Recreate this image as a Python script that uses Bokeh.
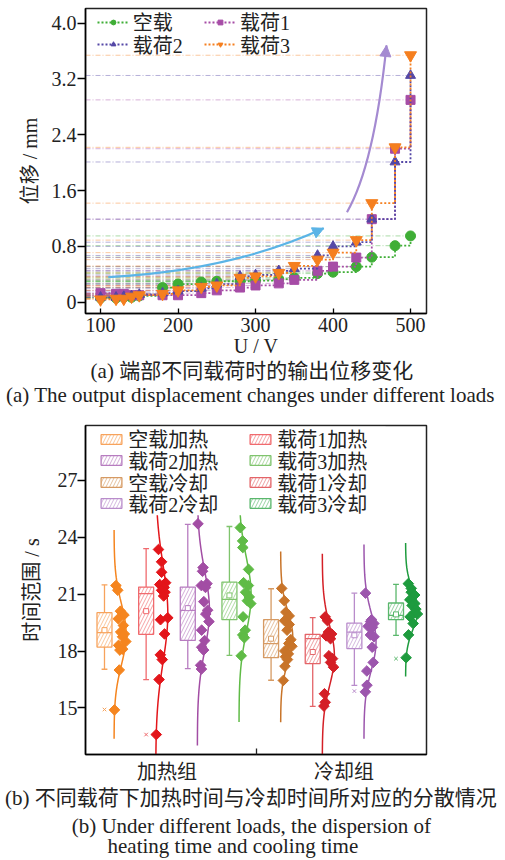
import numpy as np
from bokeh.plotting import figure
from bokeh.models import (FixedTicker, PrintfTickFormatter, Legend, LegendItem,
                          Label, Arrow, NormalHead, Range1d, ColumnDataSource, BoxAnnotation)
from bokeh.layouts import column
from bokeh.embed import file_html
from bokeh.resources import INLINE

SERIF = "Liberation Serif"
MIXED = "Liberation Serif, Noto Sans CJK SC"

# ---------------- (a) data ----------------
voltage = [100, 120, 130, 140, 150, 180, 200, 230, 250, 280, 300, 330, 350, 380, 400, 430, 450, 480, 500]
disp_noload = [0.06, 0.06, 0.07, 0.07, 0.09, 0.21, 0.26, 0.29, 0.30, 0.30, 0.31, 0.33, 0.35, 0.41, 0.43, 0.51, 0.645, 0.81, 0.95]
disp_load1 = [0.13, 0.12, 0.12, 0.10, 0.10, 0.10, 0.10, 0.13, 0.17, 0.21, 0.24, 0.27, 0.32, 0.45, 0.51, 0.64, 1.19, 2.20, 2.90]
disp_load2 = [0.07, 0.07, 0.08, 0.09, 0.11, 0.13, 0.16, 0.20, 0.26, 0.37, 0.39, 0.45, 0.48, 0.67, 0.80, 0.86, 1.19, 2.01, 3.25]
disp_load3 = [0.04, 0.05, 0.05, 0.08, 0.10, 0.12, 0.17, 0.22, 0.24, 0.35, 0.37, 0.42, 0.52, 0.61, 0.71, 0.89, 1.42, 2.22, 3.54]
series_names_a = ["空载", "载荷1", "载荷2", "载荷3"]
x_ticks_a = [100, 200, 300, 400, 500]
y_ticks_a = [0, 0.8, 1.6, 2.4, 3.2, 4.0]

# ---------------- (b) data ----------------
box_names = ["空载加热", "载荷1加热", "载荷2加热", "载荷3加热",
             "空载冷却", "载荷1冷却", "载荷2冷却", "载荷3冷却"]
heat_noload = [21.45, 21.2, 20.1, 19.9, 19.7, 19.35, 19.0, 18.9, 18.75, 18.5, 18.3, 18.1, 18.05, 17.0, 14.9]
heat_load1 = [23.35, 22.7, 22.15, 21.6, 21.5, 21.35, 21.2, 21.1, 20.9, 19.75, 19.65, 18.9, 17.8, 17.55, 16.5, 13.6]
heat_load2 = [24.7, 22.4, 22.2, 21.55, 21.45, 21.35, 20.6, 20.15, 19.95, 19.55, 19.1, 18.55, 18.2, 18.05, 17.25, 17.05]
heat_load3 = [24.5, 23.8, 23.45, 22.3, 21.6, 21.45, 21.1, 20.85, 20.65, 20.5, 19.8, 19.1, 18.85, 18.7, 17.75]
cool_noload = [21.3, 20.65, 20.05, 19.85, 19.6, 19.4, 19.1, 18.6, 18.4, 18.25, 18.0, 17.85, 17.7, 17.55, 17.2, 16.45]
cool_load1 = [19.8, 19.6, 19.0, 18.9, 18.8, 18.65, 17.75, 17.6, 17.4, 17.15, 15.75, 15.3, 15.1]
cool_load2 = [21.05, 19.65, 19.55, 19.45, 19.3, 19.25, 18.85, 18.75, 18.2, 17.4, 16.95, 16.2, 15.85]
cool_load3 = [21.55, 21.3, 21.1, 20.95, 20.7, 20.5, 20.4, 20.2, 20.0, 19.95, 19.8, 19.45, 18.85, 17.65]
box_points = [heat_noload, heat_load1, heat_load2, heat_load3,
              cool_noload, cool_load1, cool_load2, cool_load3]
whisker_low = [17.04, 16.49, 17.07, 17.77, 16.46, 15.09, 16.19, 18.83]
quart_1 = [18.21, 18.88, 18.56, 19.65, 17.65, 17.34, 18.13, 19.65]
median = [18.97, 21.02, 20.14, 20.72, 18.39, 18.65, 19.00, 19.88]
quart_3 = [20.02, 21.37, 21.37, 21.63, 19.65, 18.88, 19.47, 20.53]
whisker_high = [21.49, 23.39, 24.67, 24.56, 21.28, 19.76, 21.05, 21.51]
mean_val = [19.10, 20.10, 20.26, 20.93, 18.65, 17.95, 18.83, 19.93]
outliers = [[14.92], [13.6], [], [], [], [], [15.89], [17.6]]
group_labels = ["加热组", "冷却组"]
y_ticks_b = [15, 18, 21, 24, 27]

caption_a = ["(a)  端部不同载荷时的输出位移变化",
             "(a)  The output displacement changes under different loads"]
caption_b = ["(b)  不同载荷下加热时间与冷却时间所对应的分散情况",
             "(b)  Under different loads, the dispersion of",
             "heating time and cooling time"]

# ---------------- styles ----------------
col_a = ["#3fae36", "#a64ca6", "#5447a6", "#f57f1f"]
mark_a = ["circle", "square", "triangle", "inverted_triangle"]
size_a = [10, 9, 10, 12]
dot_col = ["#f5851f", "#e3151a", "#a24da4", "#5fbb46", "#c87429", "#d41f26", "#9c56ad", "#1e9b3e"]
box_col = ["#f7a35c", "#f06a6e", "#b77cc0", "#7fc46d", "#d69a63", "#e46468", "#b98ccb", "#5ab76c"]
TXT = "#222222"
W = 505


def style_axes(p, tick_size="20px"):
    for ax in (p.xaxis[0], p.yaxis[0]):
        ax.major_label_text_font = SERIF
        ax.major_label_text_font_size = tick_size
        ax.axis_label_text_font = MIXED
        ax.axis_label_text_font_size = "20px"
        ax.axis_label_text_font_style = "normal"
        ax.axis_line_width = 1.5
        ax.major_tick_line_width = 1.3
        ax.minor_tick_line_color = None
        ax.major_label_text_color = TXT
        ax.axis_label_text_color = TXT
    p.xgrid.visible = False
    p.ygrid.visible = False
    p.outline_line_color = TXT
    p.outline_line_width = 1.5
    p.outline_line_alpha = 1.0


def caption_fig(height):
    c = figure(width=W, height=height, x_range=Range1d(0, W), y_range=Range1d(0, height),
               x_axis_type=None, y_axis_type=None, output_backend="svg",
               toolbar_location=None, min_border=0, outline_line_color=None)
    c.frame_align = False
    c.xgrid.visible = False
    c.ygrid.visible = False
    return c


def caption(c, x, y, text, font, size, align="center"):
    c.add_layout(Label(x=x, y=y, text=text, text_align=align, text_baseline="middle",
                       text_font=font, text_font_size=size, text_color=TXT))


def one_row_legend(item, x, y, font_size, gw, gh):
    return Legend(items=[item], location=(x, y), orientation="vertical",
                  label_text_font=MIXED, label_text_font_size=font_size,
                  label_text_color=TXT,
                  glyph_width=gw, glyph_height=gh, label_standoff=4, spacing=0,
                  padding=0, margin=0, border_line_color=None,
                  background_fill_alpha=0.0)


# ================= figure (a) =================
xr_a = (80.6, 520.6)
yr_a = (-0.162, 4.21)
pa = figure(width=W, height=360, x_range=Range1d(*xr_a), y_range=Range1d(*yr_a),
            output_backend="svg", toolbar_location=None,
            min_border_left=85, min_border_right=79, min_border_top=8, min_border_bottom=47)
style_axes(pa)
pa.xaxis.ticker = FixedTicker(ticks=x_ticks_a)
pa.yaxis.ticker = FixedTicker(ticks=y_ticks_a)
pa.yaxis.formatter = PrintfTickFormatter(format="%.1f")
pa.yaxis.major_label_overrides = {0: "0"}
pa.xaxis.major_tick_in = 5
pa.xaxis.major_tick_out = 0
pa.yaxis.major_tick_in = 0
pa.yaxis.major_tick_out = 8
pa.xaxis.major_label_standoff = 4
pa.yaxis.major_label_standoff = 1
pa.xaxis.axis_label = "U / V"
pa.yaxis.axis_label = "位移 / mm"
pa.xaxis.axis_label_standoff = 0
pa.yaxis.axis_label_standoff = 8

series_a = [disp_noload, disp_load1, disp_load2, disp_load3]
n = len(voltage)
for vals, c in zip(series_a, col_a):
    pa.segment(x0=[xr_a[0]] * n, y0=vals, x1=voltage, y1=vals,
               line_color=c, line_alpha=0.55, line_width=0.8, line_dash="5 2 1 2")

arrow_blue = dict(x0=110, y0=0.36, cx=268, cy=0.45, x1=388, y1=1.06, color="#5bb4e6")
arrow_purple = dict(x0=418, y0=1.29, cx=453, cy=1.96, x1=469, y1=3.68, color="#a48ad1")
for a in (arrow_blue, arrow_purple):
    pa.quadratic(x0=[a["x0"]], y0=[a["y0"]], x1=[a["x1"]], y1=[a["y1"]],
                 cx=[a["cx"]], cy=[a["cy"]], line_color=a["color"], line_width=2.2)
    xs = a["x1"] - 0.08 * (a["x1"] - a["cx"])
    ys = a["y1"] - 0.08 * (a["y1"] - a["cy"])
    pa.add_layout(Arrow(end=NormalHead(size=11, fill_color=a["color"], line_color=a["color"]),
                        x_start=xs, y_start=ys, x_end=a["x1"], y_end=a["y1"],
                        line_color=a["color"], line_width=2.2))

items_a = []
for vals, c, m, s, name in zip(series_a, col_a, mark_a, size_a, series_names_a):
    rl = pa.step(voltage, vals, mode="after", line_color=c, line_width=1.8, line_dash="2 2")
    rm = pa.scatter(voltage, vals, marker=m, size=s, fill_color=c, line_color=c)
    items_a.append(LegendItem(label=name, renderers=[rl, rm]))

leg_a_x = [11.7, 119]
leg_a_y = [277, 254.5]
for k, it in enumerate(items_a):
    pa.add_layout(one_row_legend(it, leg_a_x[k % 2], leg_a_y[k // 2], "20px", 32, 12), "center")

cap_a = caption_fig(48)
caption(cap_a, 254, 38, caption_a[0], MIXED, "21px")
caption(cap_a, 252.5, 14, caption_a[1], SERIF, "21px")

# ================= figure (b) =================
xr_b = (0.544, 8.732)
yr_b = (12.55, 29.88)
pb = figure(width=W, height=378, x_range=Range1d(*xr_b), y_range=Range1d(*yr_b),
            output_backend="svg", toolbar_location=None,
            min_border_left=85, min_border_right=79, min_border_top=17, min_border_bottom=32)
style_axes(pb)
pb.yaxis.ticker = FixedTicker(ticks=y_ticks_b)
pb.yaxis.major_tick_in = 0
pb.yaxis.major_tick_out = 8
pb.yaxis.major_label_standoff = 0
pb.yaxis.axis_label = "时间范围 / s"
pb.yaxis.axis_label_standoff = 12
group_pos = [2.5, 6.75]
sep_pos = 4.64
pb.xaxis.ticker = FixedTicker(ticks=group_pos, minor_ticks=[sep_pos])
pb.xaxis.major_label_overrides = {group_pos[0]: group_labels[0], group_pos[1]: group_labels[1]}
pb.xaxis.major_label_text_font = MIXED
pb.xaxis.major_label_text_font_size = "20px"
pb.xaxis.major_tick_in = 0
pb.xaxis.major_tick_out = 0
pb.xaxis.minor_tick_line_color = TXT
pb.xaxis.minor_tick_line_width = 1.3
pb.xaxis.minor_tick_in = 6
pb.xaxis.minor_tick_out = 0
pb.xaxis.major_label_standoff = 6

pos = np.arange(1, 9, dtype=float)
hw = 0.18
cap = 0.07
curve_off = 0.23
curve_w = 0.29

jit = [0.55, 0.85, 0.7, 1.0, 0.4, 0.8]
for i in range(8):
    pts = np.array(box_points[i], dtype=float)
    m = pts.mean()
    s = pts.std(ddof=1)
    yy = np.linspace(m - 3.4 * s, m + 3.4 * s, 200)
    base = pos[i] + curve_off
    pdf = np.exp(-0.5 * ((yy - m) / s) ** 2)
    pb.line(base + curve_w * pdf, yy, line_color=dot_col[i], line_width=1.5)
    w_pts = np.exp(-0.5 * ((pts - m) / s) ** 2)
    xp = base + curve_w * w_pts * np.array([jit[k % len(jit)] for k in range(len(pts))])
    pb.scatter(xp, pts, marker="square", angle=np.pi / 4, size=7.5,
               fill_color=dot_col[i], line_color=dot_col[i])

src = ColumnDataSource(dict(left=pos - hw, right=pos + hw, bottom=quart_1, top=quart_3,
                            color=box_col))
box_r = pb.quad(left="left", right="right", bottom="bottom", top="top", source=src,
                fill_color="white", fill_alpha=0.0, line_color="color", line_width=1.3,
                hatch_pattern="/", hatch_color="color", hatch_alpha=0.7,
                hatch_scale=7, hatch_weight=0.9)
pb.segment(x0=pos - hw, x1=pos + hw, y0=median, y1=median, line_color=box_col, line_width=1.3)
pb.segment(x0=pos, x1=pos, y0=quart_3, y1=whisker_high, line_color=box_col, line_width=1.3)
pb.segment(x0=pos, x1=pos, y0=quart_1, y1=whisker_low, line_color=box_col, line_width=1.3)
pb.segment(x0=pos - cap, x1=pos + cap, y0=whisker_high, y1=whisker_high, line_color=box_col, line_width=1.3)
pb.segment(x0=pos - cap, x1=pos + cap, y0=whisker_low, y1=whisker_low, line_color=box_col, line_width=1.3)
pb.scatter(pos, mean_val, marker="square", size=5, fill_color="white", line_color=box_col, line_width=1)
ox, oy, oc = [], [], []
for i in range(8):
    for v in outliers[i]:
        ox.append(pos[i])
        oy.append(v)
        oc.append(box_col[i])
pb.scatter(ox, oy, marker="x", size=5, line_color=oc, line_width=1)

pb.add_layout(BoxAnnotation(left=0.58, right=7.75, bottom=25.15, top=29.82,
                            fill_color="white", fill_alpha=1.0, line_color=None))
items_b = [LegendItem(label=box_names[i], renderers=[box_r], index=i) for i in range(8)]
leg_b_x = [13.3, 162.3]
leg_b_y = [300.8, 279.5, 257.5, 236.5]
for k, it in enumerate(items_b):
    pb.add_layout(one_row_legend(it, leg_b_x[k % 2], leg_b_y[k // 2], "20px", 26, 12), "center")

cap_b = caption_fig(74)
caption(cap_b, 253, 62.5, caption_b[0], MIXED, "21px")
caption(cap_b, 253.5, 35, caption_b[1], SERIF, "21px")
caption(cap_b, 107, 14.5, caption_b[2], SERIF, "21px", align="left")

layout = column(pa, cap_a, pb, cap_b, spacing=0)
open("out.html", "w").write(file_html(layout, INLINE))
